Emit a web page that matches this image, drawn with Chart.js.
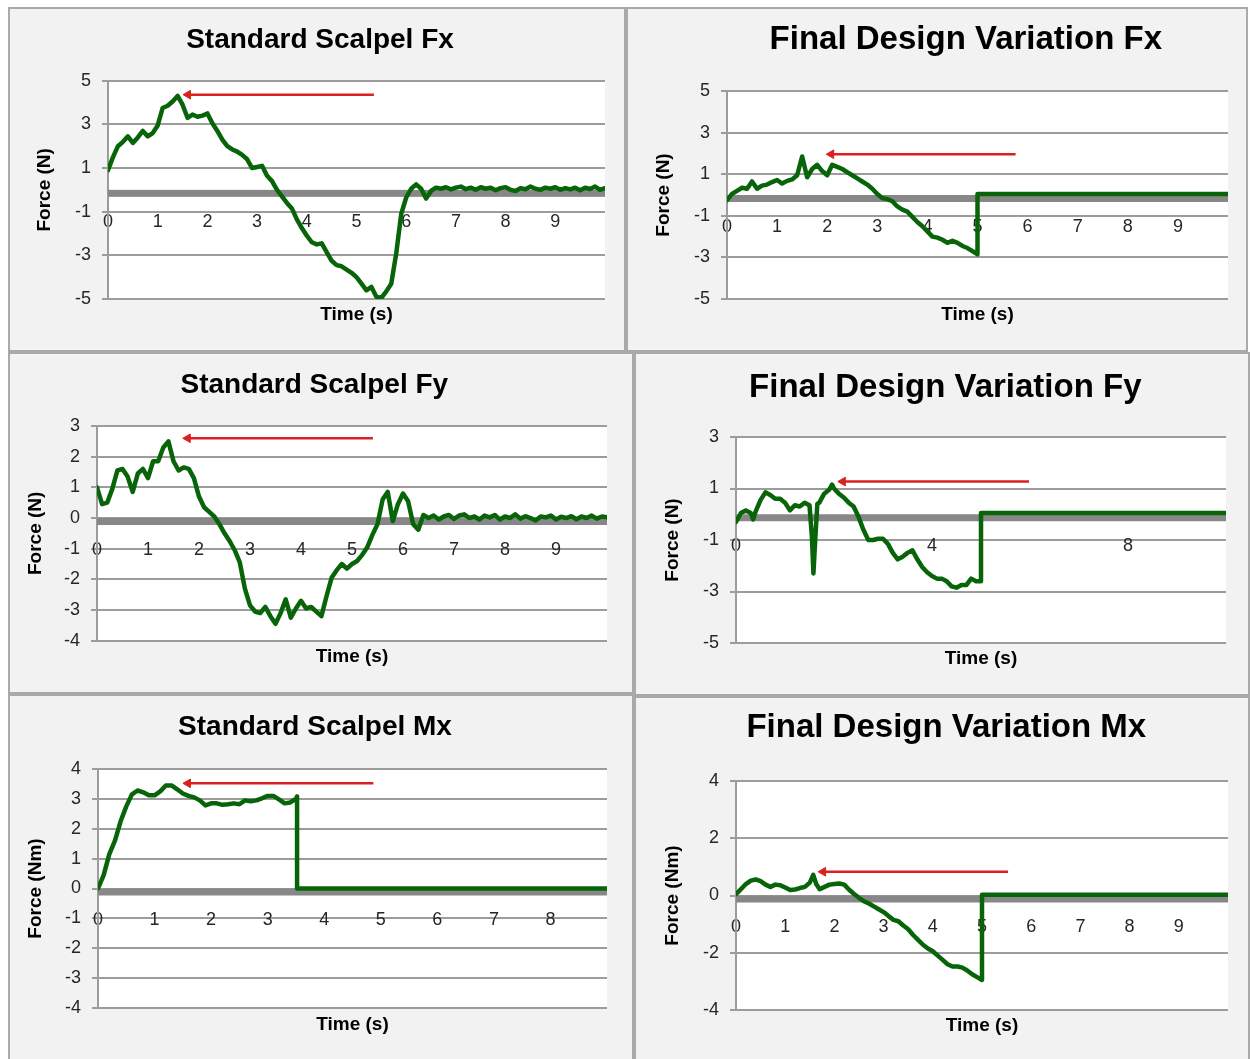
<!DOCTYPE html>
<html>
<head>
<meta charset="utf-8">
<script src="https://cdn.jsdelivr.net/npm/chart.js@4.4.1/dist/chart.umd.min.js"></script>
<style>
html, body { margin: 0; padding: 0; background: #ffffff; overflow: hidden; }
#page { position: relative; width: 1250px; height: 1059px; }
.panel { position: absolute; box-sizing: border-box; background: #f2f2f2; border: 2px solid #a9a9a9; }
canvas.chart { position: absolute; }
</style>
</head>
<body>
<div id="page"></div>
<script>
// ---------------- DATA ----------------
const panelTitles = ['Standard Scalpel Fx', 'Final Design Variation Fx', 'Standard Scalpel Fy',
                     'Final Design Variation Fy', 'Standard Scalpel Mx', 'Final Design Variation Mx'];
const forceTitle = 'Force (N)';
const momentTitle = 'Force (Nm)';
const timeTitle = 'Time (s)';

// tick labels
const yTicksFx = [-5, -3, -1, 1, 3, 5];
const yTicksSSFy = [-4, -3, -2, -1, 0, 1, 2, 3];
const yTicksFDFy = [-5, -3, -1, 1, 3];
const yTicksSSMx = [-4, -3, -2, -1, 0, 1, 2, 3, 4];
const yTicksFDMx = [-4, -2, 0, 2, 4];
const xTicks10 = [0, 1, 2, 3, 4, 5, 6, 7, 8, 9];
const xTicksSSMx = [0, 1, 2, 3, 4, 5, 6, 7, 8];
const xTicksFDFy = [0, 4, 8];

// Standard scalpel time base (s)
const ssTime = [0,0.1,0.2,0.3,0.4,0.5,0.6,0.7,0.8,0.9,1,1.1,1.2,1.3,1.4,1.5,1.6,1.7,1.8,1.9,
  2,2.1,2.2,2.3,2.4,2.5,2.6,2.7,2.8,2.9,3,3.1,3.2,3.3,3.4,3.5,3.6,3.7,3.8,3.9,
  4,4.1,4.2,4.3,4.4,4.5,4.6,4.7,4.8,4.9,5,5.1,5.2,5.3,5.4,5.5,5.6,5.7,5.8,5.9,
  6,6.1,6.2,6.3,6.4,6.5,6.6,6.7,6.8,6.9,7,7.1,7.2,7.3,7.4,7.5,7.6,7.7,7.8,7.9,
  8,8.1,8.2,8.3,8.4,8.5,8.6,8.7,8.8,8.9,9,9.1,9.2,9.3,9.4,9.5,9.6,9.7,9.8,9.9,10];

const ssFx = [0.9,1.5,2.0,2.2,2.45,2.15,2.4,2.7,2.45,2.6,
  2.95,3.75,3.85,4.05,4.3,3.9,3.3,3.45,3.35,3.4,
  3.5,3.05,2.7,2.3,2.0,1.85,1.75,1.6,1.4,1.0,
  1.05,1.1,0.65,0.4,0.0,-0.3,-0.6,-0.85,-1.35,-1.75,
  -2.1,-2.4,-2.5,-2.45,-2.85,-3.25,-3.45,-3.5,-3.65,-3.8,
  -4.0,-4.3,-4.6,-4.45,-4.9,-4.95,-4.65,-4.3,-2.9,-1.1,
  -0.35,0.05,0.25,0.05,-0.4,-0.05,0.1,0.05,0.12,0.02,
  0.1,0.15,0.03,0.1,0.0,0.12,0.05,0.1,-0.02,0.08,
  0.12,0.0,-0.05,0.08,0.03,0.15,0.05,0.0,0.1,0.05,
  0.12,0.0,0.08,0.02,0.1,-0.02,0.1,0.04,0.15,0.0,
  0.08];

const ssFy = [1.0,0.45,0.5,0.95,1.55,1.6,1.35,0.85,1.45,1.6,
  1.3,1.85,1.85,2.3,2.5,1.85,1.55,1.65,1.6,1.3,
  0.7,0.35,0.2,0.05,-0.2,-0.5,-0.75,-1.05,-1.45,-2.3,
  -2.85,-3.05,-3.1,-2.9,-3.2,-3.45,-3.1,-2.65,-3.25,-2.95,
  -2.7,-2.95,-2.9,-3.05,-3.2,-2.55,-1.95,-1.7,-1.5,-1.65,
  -1.5,-1.4,-1.2,-0.95,-0.55,-0.2,0.6,0.85,-0.1,0.45,
  0.8,0.55,-0.2,-0.38,0.1,0.0,0.08,-0.05,0.05,0.1,
  -0.03,0.08,0.12,0.0,0.05,-0.05,0.08,0.02,0.1,-0.05,
  0.05,0.0,0.12,-0.02,0.06,0.0,-0.08,0.05,0.02,0.08,
  -0.05,0.04,0.0,0.06,-0.04,0.05,0.0,0.08,-0.02,0.05,
  0.02];

const ssMxTime = [0,0.1,0.2,0.3,0.4,0.5,0.6,0.7,0.8,0.9,1,1.1,1.2,1.3,1.4,1.5,1.6,1.7,1.8,1.9,
  2,2.1,2.2,2.3,2.4,2.5,2.6,2.7,2.8,2.9,3,3.1,3.2,3.3,3.4,3.5,3.52,3.52,9];
const ssMx = [0.0,0.45,1.15,1.6,2.25,2.75,3.15,3.28,3.22,3.12,
  3.12,3.25,3.45,3.45,3.32,3.18,3.1,3.05,2.95,2.78,
  2.85,2.85,2.8,2.82,2.85,2.82,2.95,2.92,2.95,3.02,
  3.1,3.1,2.98,2.85,2.88,3.0,3.08,0,0];

// Final design variation
const fdFxTime = [0,0.1,0.2,0.3,0.4,0.5,0.6,0.7,0.8,0.9,1,1.1,1.2,1.3,1.4,1.5,1.6,1.7,1.8,1.9,
  2,2.1,2.2,2.3,2.4,2.5,2.6,2.7,2.8,2.9,3,3.1,3.2,3.3,3.4,3.5,3.6,3.7,3.8,3.9,
  4,4.1,4.2,4.3,4.4,4.5,4.6,4.7,4.8,4.9,5,5,10];
const fdFx = [-0.25,0.05,0.2,0.35,0.3,0.65,0.3,0.45,0.5,0.62,
  0.72,0.55,0.68,0.75,0.95,1.85,0.85,1.25,1.45,1.15,
  0.95,1.45,1.35,1.25,1.1,0.95,0.8,0.65,0.5,0.3,
  0.05,-0.15,-0.2,-0.3,-0.55,-0.7,-0.8,-1.05,-1.3,-1.5,
  -1.75,-2.0,-2.05,-2.15,-2.3,-2.2,-2.3,-2.45,-2.55,-2.7,
  -2.85,0.05,0.05];

const fdFyTime = [0,0.1,0.2,0.3,0.35,0.4,0.5,0.6,0.7,0.8,0.9,1,1.1,1.2,1.3,1.4,1.5,1.55,1.58,1.62,1.66,
  1.7,1.8,1.9,1.96,2,2.1,2.2,2.3,2.4,2.5,2.6,2.7,2.8,2.9,3,3.1,3.2,3.3,3.4,3.5,3.6,3.7,3.8,3.9,
  4,4.1,4.2,4.3,4.4,4.5,4.6,4.7,4.8,4.9,5,5,10];
const fdFy = [-0.3,0.05,0.15,0.05,-0.2,0.1,0.55,0.85,0.75,0.6,0.6,0.45,0.15,0.35,0.3,0.45,0.35,-0.9,-2.3,-0.9,0.4,
  0.45,0.8,0.95,1.15,1.0,0.8,0.65,0.45,0.3,-0.1,-0.6,-1.0,-1.0,-0.95,-0.95,-1.15,-1.5,-1.75,-1.65,-1.5,-1.4,-1.75,-2.05,-2.25,
  -2.4,-2.5,-2.5,-2.6,-2.8,-2.85,-2.75,-2.75,-2.5,-2.6,-2.6,0.05,0.05];

const fdMxTime = [0,0.1,0.2,0.3,0.4,0.5,0.6,0.7,0.8,0.9,1,1.1,1.2,1.3,1.4,1.5,1.57,1.63,1.7,1.8,1.9,
  2,2.1,2.2,2.3,2.4,2.5,2.6,2.7,2.8,2.9,3,3.1,3.2,3.3,3.4,3.5,3.6,3.7,3.8,3.9,
  4,4.1,4.2,4.3,4.4,4.5,4.6,4.7,4.8,4.9,5,5,10];
const fdMx = [0.05,0.22,0.4,0.52,0.56,0.5,0.38,0.3,0.38,0.36,0.28,0.19,0.21,0.26,0.3,0.45,0.72,0.4,0.22,0.3,0.38,
  0.4,0.42,0.38,0.2,0.05,-0.08,-0.2,-0.28,-0.38,-0.48,-0.58,-0.72,-0.85,-0.9,-1.05,-1.18,-1.38,-1.55,-1.72,-1.85,
  -1.95,-2.1,-2.25,-2.4,-2.48,-2.48,-2.52,-2.62,-2.75,-2.85,-2.95,0.03,0.03];

// red arrows: [tail time, head time, level]
const ssFxArrow = [5.35, 1.61, 4.36];
const fdFxArrow = [5.76, 2.08, 1.96];
const ssFyArrow = [5.41, 1.78, 2.6];
const fdFyArrow = [5.98, 2.18, 1.27];
const ssMxArrow = [4.87, 1.59, 3.52];
const fdMxArrow = [5.53, 1.77, 0.83];

// ---------------- STYLE / LAYOUT ----------------
const FONT = "'Liberation Sans', Arial, Helvetica, sans-serif";
const GREEN = '#086408';
const RED = '#d9221f';
const GRID = '#9c9c9c';
const BAND = '#878787';
const TICK = '#262626';
const AXIS_TITLE = 19;

const areaPlugin = {
  id: 'areaPlugin',
  beforeDraw(chart) {
    const {ctx, chartArea: a} = chart;
    ctx.save();
    ctx.fillStyle = '#ffffff';
    ctx.fillRect(a.left, a.top, a.right - a.left, a.bottom - a.top);
    ctx.restore();
  },
  beforeDatasetsDraw(chart) {
    const {ctx, chartArea: a, scales} = chart;
    const y0 = scales.y.getPixelForValue(0);
    ctx.save();
    ctx.fillStyle = BAND;
    ctx.fillRect(a.left, y0, a.right - a.left, 7);
    ctx.restore();
  }
};

function build(g, spec) {
  const page = document.getElementById('page');
  const cw = g.R - g.L, ch = g.B - g.T;
  const div = document.createElement('div');
  div.className = 'panel';
  Object.assign(div.style, {left: g.L + 'px', top: g.T + 'px', width: cw + 'px', height: ch + 'px'});
  if (g.noBottom) div.style.borderBottom = 'none';
  page.appendChild(div);
  const cv = document.createElement('canvas');
  cv.className = 'chart';
  cv.width = cw; cv.height = ch;
  Object.assign(cv.style, {left: g.L + 'px', top: g.T + 'px', width: cw + 'px', height: ch + 'px'});
  page.appendChild(cv);

  const pL = g.pl - g.L, pR = g.pr - g.L, pT = g.pt - g.T, pB = g.pb - g.T;
  const cx = g.tx - g.L;
  const d = 2 * cx - cw;
  const padL = Math.max(d, 0), padR = Math.max(-d, 0);
  const tLH = spec.titleSize * 1.2, aLH = AXIS_TITLE * 1.2;
  const tPadTop = (g.ty - g.T) - tLH / 2;
  const tPadBottom = pT - tPadTop - tLH;
  const yW = pL - padL;
  const yTitlePad = (g.yx - g.L) - padL - aLH / 2;
  const rW = (cw - padR) - pR;
  const x2H = ch - pB;
  const xTitlePad = ch - (g.xy - g.T) - aLH / 2;

  const line = spec.time.map((t, i) => ({x: t, y: spec.values[i]}));
  const arrow = [{x: spec.arrow[1], y: spec.arrow[2]}, {x: spec.arrow[0], y: spec.arrow[2]}];
  const tickFont = {family: FONT, size: 18};
  const titleFont = {family: FONT, size: AXIS_TITLE, weight: 'bold', lineHeight: 1.2};

  new Chart(cv, {
    type: 'line',
    data: {
      datasets: [
        {data: line, borderColor: GREEN, borderWidth: 4.5, pointRadius: 0, tension: 0,
         borderJoinStyle: 'round', borderCapStyle: 'round', xAxisID: 'x', yAxisID: 'y'},
        {data: arrow, borderColor: RED, borderWidth: 2.5, pointStyle: 'triangle', pointRotation: -90,
         pointRadius: [5, 0], pointBackgroundColor: RED, pointBorderColor: RED, pointBorderWidth: 1,
         tension: 0, xAxisID: 'x', yAxisID: 'y'}
      ]
    },
    options: {
      responsive: false, animation: false, devicePixelRatio: 1,
      events: [],
      layout: {padding: {left: padL, right: padR, top: 0, bottom: 0}},
      plugins: {
        legend: {display: false},
        tooltip: {enabled: false},
        title: {display: true, text: spec.title, color: '#000000',
          font: {family: FONT, size: spec.titleSize, weight: 'bold', lineHeight: 1.2},
          padding: {top: tPadTop, bottom: tPadBottom}}
      },
      scales: {
        x: {type: 'linear', axis: 'x', min: 0, max: spec.xMax, position: {y: 0},
          grid: {display: false, drawTicks: false}, border: {display: false},
          afterBuildTicks: s => { s.ticks = spec.xTicks.map(v => ({value: v})); },
          ticks: {padding: 21, color: TICK, font: tickFont, autoSkip: false, maxRotation: 0,
            callback: v => String(v)}},
        x2: {type: 'linear', axis: 'x', position: 'bottom', min: 0, max: spec.xMax,
          grid: {display: false, drawTicks: false}, border: {display: false}, ticks: {display: false},
          title: {display: true, text: timeTitle, color: '#000000', font: titleFont,
            padding: {top: 0, bottom: xTitlePad}},
          afterFit: s => { s.height = x2H; }},
        y: {type: 'linear', axis: 'y', position: 'left', min: spec.yMin, max: spec.yMax,
          afterBuildTicks: s => { s.ticks = spec.yTicks.map(v => ({value: v})); },
          grid: {color: GRID, lineWidth: 2, tickLength: 6, drawTicks: true},
          border: {display: true, color: GRID, width: 2},
          ticks: {padding: 11, color: TICK, font: tickFont, autoSkip: false, callback: v => String(v)},
          title: {display: true, text: spec.yTitle, color: '#000000', font: titleFont,
            padding: {top: yTitlePad, bottom: 0}},
          afterFit: s => { s.width = yW; }},
        yR: {type: 'linear', axis: 'y', position: 'right', min: spec.yMin, max: spec.yMax,
          grid: {display: false, drawTicks: false}, border: {display: false}, ticks: {display: false},
          afterFit: s => { s.width = rW; }}
      }
    },
    plugins: [areaPlugin]
  });
}

build({L: 8, T: 7, R: 626, B: 352, pl: 108, pr: 605, pt: 80.7, pb: 299, tx: 320, ty: 40, yx: 44.5, xy: 315},
  {title: panelTitles[0], titleSize: 28, yTitle: forceTitle, time: ssTime, values: ssFx, arrow: ssFxArrow,
   xMax: 10, xTicks: xTicks10, yMin: -5, yMax: 5, yTicks: yTicksFx});
build({L: 626, T: 7, R: 1248, B: 352, pl: 727, pr: 1228, pt: 91, pb: 299, tx: 965.8, ty: 39.5, yx: 664, xy: 314.5},
  {title: panelTitles[1], titleSize: 33, yTitle: forceTitle, time: fdFxTime, values: fdFx, arrow: fdFxArrow,
   xMax: 10, xTicks: xTicks10, yMin: -5, yMax: 5, yTicks: yTicksFx});
build({L: 8, T: 352, R: 634, B: 694, pl: 97, pr: 607, pt: 426, pb: 640.7, tx: 314.3, ty: 385.5, yx: 35.5, xy: 656.5},
  {title: panelTitles[2], titleSize: 28, yTitle: forceTitle, time: ssTime, values: ssFy, arrow: ssFyArrow,
   xMax: 10, xTicks: xTicks10, yMin: -4, yMax: 3, yTicks: yTicksSSFy});
build({L: 634, T: 352, R: 1250, B: 696, pl: 736, pr: 1226, pt: 437, pb: 643, tx: 945.3, ty: 387.5, yx: 672.5, xy: 659},
  {title: panelTitles[3], titleSize: 33, yTitle: forceTitle, time: fdFyTime, values: fdFy, arrow: fdFyArrow,
   xMax: 10, xTicks: xTicksFDFy, yMin: -5, yMax: 3, yTicks: yTicksFDFy});
build({L: 8, T: 694, R: 634, B: 1061, pl: 98, pr: 607, pt: 769, pb: 1008, tx: 315, ty: 727.5, yx: 35.5, xy: 1024.5, noBottom: true},
  {title: panelTitles[4], titleSize: 28, yTitle: momentTitle, time: ssMxTime, values: ssMx, arrow: ssMxArrow,
   xMax: 9, xTicks: xTicksSSMx, yMin: -4, yMax: 4, yTicks: yTicksSSMx});
build({L: 634, T: 696, R: 1250, B: 1061, pl: 736, pr: 1228, pt: 781, pb: 1010, tx: 946.3, ty: 728, yx: 672.5, xy: 1026, noBottom: true},
  {title: panelTitles[5], titleSize: 33, yTitle: momentTitle, time: fdMxTime, values: fdMx, arrow: fdMxArrow,
   xMax: 10, xTicks: xTicks10, yMin: -4, yMax: 4, yTicks: yTicksFDMx});
</script>
</body>
</html>
